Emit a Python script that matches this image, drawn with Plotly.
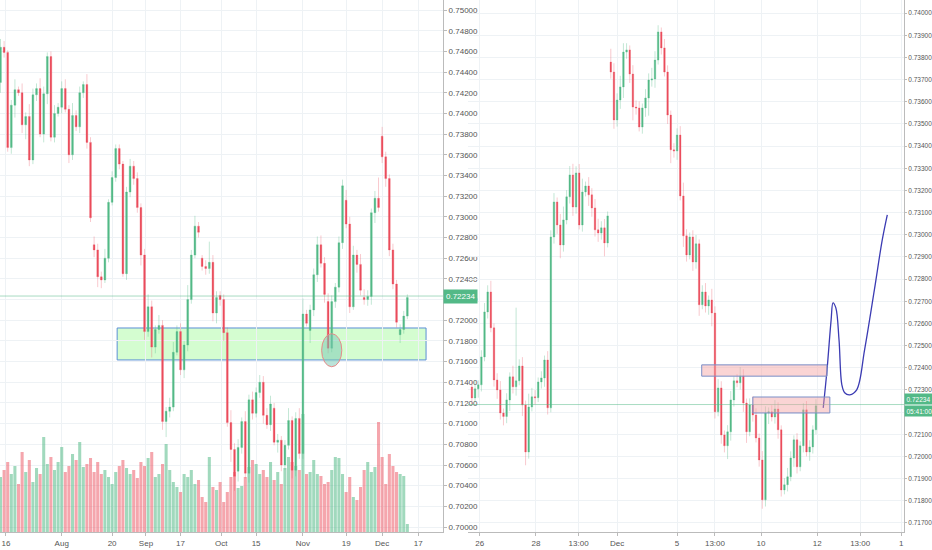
import plotly.graph_objects as go

# ---------- left panel: daily candles ----------
l_open = [0.7430, 0.7464, 0.7459, 0.7367, 0.7408, 0.7423, 0.7420, 0.7389, 0.7397, 0.7355,
          0.7418, 0.7424, 0.7380, 0.7419, 0.7455, 0.7377, 0.7400, 0.7406, 0.7424, 0.7404,
          0.7360, 0.7398, 0.7387, 0.7420, 0.7428, 0.7372, 0.7273, 0.7268, 0.7242, 0.7239,
          0.7260, 0.7314, 0.7338, 0.7366, 0.7351, 0.7245, 0.7324, 0.7349, 0.7337, 0.7309,
          0.7263, 0.7189, 0.7213, 0.7174, 0.7191, 0.7195, 0.7102, 0.7112, 0.7116, 0.7169,
          0.7189, 0.7152, 0.7176, 0.7220, 0.7263, 0.7291, 0.7260, 0.7252, 0.7250, 0.7256,
          0.7207, 0.7224, 0.7220, 0.7188, 0.7101, 0.7075, 0.7054, 0.7077, 0.7102, 0.7052,
          0.7123, 0.7110, 0.7130, 0.7140, 0.7108, 0.7099, 0.7115, 0.7082, 0.7084, 0.7060,
          0.7079, 0.7103, 0.7055, 0.7105, 0.7071, 0.7206, 0.7190, 0.7210, 0.7244, 0.7273,
          0.7255, 0.7218, 0.7173, 0.7218, 0.7232, 0.7275, 0.7316, 0.7293, 0.7213, 0.7263,
          0.7254, 0.7222, 0.7220, 0.7223, 0.7304, 0.7318, 0.7378, 0.7358, 0.7337, 0.7268,
          0.7235, 0.7186, 0.7191, 0.7204]
l_close = [0.7464, 0.7459, 0.7367, 0.7408, 0.7423, 0.7420, 0.7389, 0.7397, 0.7355, 0.7418,
           0.7424, 0.7380, 0.7419, 0.7455, 0.7377, 0.7400, 0.7406, 0.7424, 0.7404, 0.7360,
           0.7398, 0.7387, 0.7420, 0.7428, 0.7372, 0.7299, 0.7268, 0.7242, 0.7239, 0.7260,
           0.7314, 0.7338, 0.7366, 0.7351, 0.7245, 0.7324, 0.7349, 0.7337, 0.7309, 0.7263,
           0.7189, 0.7213, 0.7174, 0.7191, 0.7195, 0.7102, 0.7112, 0.7116, 0.7169, 0.7189,
           0.7152, 0.7176, 0.7220, 0.7263, 0.7291, 0.7285, 0.7252, 0.7250, 0.7256, 0.7207,
           0.7222, 0.7220, 0.7188, 0.7101, 0.7075, 0.7049, 0.7077, 0.7102, 0.7052, 0.7123,
           0.7110, 0.7130, 0.7140, 0.7108, 0.7099, 0.7119, 0.7082, 0.7084, 0.7060, 0.7079,
           0.7103, 0.7055, 0.7105, 0.7071, 0.7206, 0.7197, 0.7210, 0.7244, 0.7273, 0.7255,
           0.7225, 0.7173, 0.7218, 0.7232, 0.7275, 0.7330, 0.7293, 0.7213, 0.7263, 0.7254,
           0.7229, 0.7220, 0.7223, 0.7304, 0.7318, 0.7309, 0.7358, 0.7337, 0.7268, 0.7235,
           0.7198, 0.7191, 0.7204, 0.7222]
# wick lengths in units of 0.0001
l_wick_up = [8, 6, 2, 5, 10, 3, 9, 4, 12, 6,
             5, 10, 7, 4, 5, 8, 4, 7, 9, 4,
             12, 5, 6, 3, 10, 5, 8, 6, 5, 9,
             3, 6, 4, 4, 3, 5, 7, 5, 6, 4,
             6, 12, 6, 4, 10, 5, 4, 9, 10, 6,
             8, 4, 14, 5, 10, 4, 3, 6, 20, 7,
             6, 4, 5, 5, 12, 6, 8, 4, 10, 5,
             8, 5, 7, 6, 7, 8, 5, 6, 4, 5,
             12, 4, 6, 10, 15, 4, 5, 6, 8, 9,
             6, 8, 6, 4, 6, 6, 10, 7, 9, 5,
             10, 8, 6, 4, 7, 20, 9, 5, 4, 6,
             4, 5, 5, 3]
l_wick_dn = [10, 5, 4, 6, 12, 3, 8, 14, 6, 4,
             6, 3, 8, 10, 4, 5, 3, 6, 3, 8,
             5, 4, 6, 5, 6, 4, 7, 10, 8, 3,
             4, 3, 4, 5, 3, 6, 5, 6, 5, 10,
             8, 5, 10, 6, 4, 8, 15, 6, 4, 3,
             5, 8, 6, 4, 3, 5, 4, 6, 5, 8,
             10, 6, 8, 4, 12, 14, 10, 6, 5, 9,
             6, 4, 5, 8, 4, 6, 3, 10, 6, 5,
             4, 8, 6, 5, 5, 3, 12, 6, 7, 4,
             8, 5, 4, 6, 5, 6, 4, 6, 3, 8,
             5, 5, 6, 8, 10, 4, 6, 8, 6, 5,
             5, 8, 4, 3]
l_volume = [55, 62, 70, 58, 66, 48, 80, 60, 72, 50,
            64, 58, 95, 68, 75, 62, 70, 85, 60, 66,
            78, 72, 90, 65, 68, 74, 60, 70, 58, 62,
            55, 48, 60, 66, 72, 64, 58, 62, 54, 70,
            66, 74, 80, 55, 58, 68, 88, 62, 50, 45,
            40, 58, 55, 62, 48, 52, 35, 30, 75, 45,
            42, 50, 30, 40, 55, 60, 44, 46, 55, 65,
            72, 68, 58, 62, 55, 70, 52, 60, 48, 64,
            75, 70, 66, 62, 118, 58, 60, 72, 58, 56,
            48, 50, 62, 75, 74, 58, 40, 55, 35, 32,
            45, 62, 70, 60, 65, 110, 75, 48, 78, 66,
            60, 58, 56, 8]
l_tick_pos = [1.5, 17, 31, 40.4, 50, 61.3, 71, 84, 96, 106, 116]
l_tick_text = ["16", "Aug", "20", "Sep", "17", "Oct", "15", "Nov", "19", "Dec", "17"]

# ---------- right panel: hourly candles ----------
r_first_open = 0.72313
r_gap_open = {44: 0.73779}
r_close = [0.72264, 0.72305, 0.72323, 0.72449, 0.72652, 0.72742, 0.72580, 0.72345, 0.72300, 0.72196,
           0.72180, 0.72255, 0.72359, 0.72314, 0.72341, 0.72408, 0.72232, 0.72020, 0.72223, 0.72269,
           0.72265, 0.72336, 0.72354, 0.72435, 0.72219, 0.72990, 0.73148, 0.73044, 0.72954, 0.73067,
           0.73171, 0.73270, 0.73125, 0.73279, 0.73044, 0.73193, 0.73220, 0.73180, 0.73121, 0.73022,
           0.73008, 0.73031, 0.72963, 0.73085,
           0.73734, 0.73518, 0.73608, 0.73667, 0.73824, 0.73834, 0.73725, 0.73576, 0.73572, 0.73486,
           0.73572, 0.73617, 0.73698, 0.73703, 0.73788, 0.73915, 0.73843, 0.73734, 0.73540, 0.73383,
           0.73378, 0.73450, 0.73175, 0.72995, 0.72909, 0.72990, 0.72877, 0.72959, 0.72684, 0.72742,
           0.72679, 0.72706, 0.72647,
           0.72201, 0.72309, 0.72097, 0.72048, 0.72111, 0.72255, 0.72341, 0.72332, 0.72363, 0.72241,
           0.72111, 0.72232, 0.72187, 0.72083, 0.71984, 0.71804, 0.72196, 0.72201, 0.72178, 0.72214,
           0.72120, 0.71849, 0.71872, 0.71908, 0.71993, 0.72075, 0.71953, 0.72048, 0.72210, 0.72020,
           0.72043, 0.72120, 0.72228]
r_wick_up = [3, 4, 2, 3, 4, 3, 5, 2, 3, 4,
             2, 3, 2, 5, 33, 3, 4, 2, 6, 4,
             3, 2, 3, 2, 4, 3, 4, 2, 5, 6,
             3, 4, 5, 3, 4, 6, 2, 4, 3, 4,
             5, 3, 4, 2, 6, 4, 3, 5, 4, 3,
             2, 4, 3, 3, 2, 4, 3, 5, 4, 3,
             2, 4, 3, 2, 3, 3, 4, 6, 3, 2,
             3, 4, 2, 3, 4, 2, 5, 3, 4, 3,
             2, 3, 4, 2, 3, 4, 3, 2, 3, 4,
             3, 2, 4, 3, 2, 3, 4, 3, 2, 3,
             4, 3, 2, 3, 2, 3, 4, 3, 2, 3]
r_wick_dn = [3, 2, 4, 3, 2, 3, 2, 3, 4, 3,
             4, 3, 5, 3, 4, 2, 5, 6, 3, 2,
             3, 2, 3, 4, 3, 2, 3, 4, 6, 3,
             2, 3, 4, 3, 2, 3, 2, 5, 4, 3,
             4, 3, 6, 2, 3, 4, 3, 4, 5, 3,
             4, 6, 3, 2, 3, 4, 8, 3, 4, 2,
             3, 2, 4, 6, 3, 4, 2, 5, 3, 2,
             4, 3, 5, 2, 3, 4, 6, 3, 2, 4,
             3, 6, 4, 3, 2, 3, 4, 5, 2, 3,
             2, 3, 4, 3, 5, 2, 3, 4, 3, 2,
             3, 2, 4, 3, 2, 3, 2, 4, 3, 2]
r_tick_pos = [2.5, 20.3, 33.8, 46, 65, 77, 91.6, 109.4, 123, 136]
r_tick_text = ["26", "28", "13:00", "Dec", "5", "13:00", "10", "12", "13:00", "1"]

# hand-drawn projection on the right
proj_x = [111.3, 112.5, 113.8, 114.4, 115.3, 116.3, 117.2, 118.1, 119.7, 121.9, 124.4, 127.5, 130, 131.6]
proj_y = [0.72219, 0.72390, 0.72616, 0.72693, 0.72670, 0.72526, 0.72323, 0.72287, 0.72278, 0.72300,
          0.72481, 0.72751, 0.72977, 0.73090]

last_price = 0.72234

GREEN = "#53b987"
RED = "#eb4d5c"

n_l = min(len(l_open), len(l_close), len(l_wick_up), len(l_wick_dn))
l_x = list(range(n_l))
l_high = [max(l_open[i], l_close[i]) + l_wick_up[i] * 0.0001 for i in range(n_l)]
l_low = [min(l_open[i], l_close[i]) - l_wick_dn[i] * 0.0001 for i in range(n_l)]

r_open = [r_first_open] + r_close[:-1]
for k, v in r_gap_open.items():
    r_open[k] = v
n_r = len(r_close)
r_x = list(range(n_r))
r_high = [max(r_open[i], r_close[i]) + r_wick_up[i % len(r_wick_up)] * 0.0001 for i in range(n_r)]
r_low = [min(r_open[i], r_close[i]) - r_wick_dn[i % len(r_wick_dn)] * 0.0001 for i in range(n_r)]

vol_colors = ["rgba(83,185,135,0.55)" if l_close[i] >= l_open[i] else "rgba(235,77,92,0.5)"
              for i in range(len(l_volume))]

fig = go.Figure()
fig.add_trace(go.Bar(x=list(range(len(l_volume))), y=l_volume, marker_color=vol_colors,
                     marker_line_width=0, xaxis="x", yaxis="y3", showlegend=False))
fig.add_trace(go.Candlestick(
    x=l_x, open=l_open[:n_l], high=l_high, low=l_low, close=l_close[:n_l],
    increasing=dict(line=dict(color="rgba(83,185,135,0.35)", width=1), fillcolor=GREEN),
    decreasing=dict(line=dict(color="rgba(235,77,92,0.3)", width=1), fillcolor=RED),
    whiskerwidth=0, xaxis="x", yaxis="y", showlegend=False))
fig.add_trace(go.Candlestick(
    x=r_x, open=r_open, high=r_high, low=r_low, close=r_close,
    increasing=dict(line=dict(color="rgba(83,185,135,0.35)", width=1), fillcolor=GREEN),
    decreasing=dict(line=dict(color="rgba(235,77,92,0.3)", width=1), fillcolor=RED),
    whiskerwidth=0, xaxis="x2", yaxis="y2", showlegend=False))
fig.add_trace(go.Scatter(x=proj_x, y=proj_y, mode="lines", line=dict(color="#3b3bb3", width=1.3, shape="spline"),
                         xaxis="x2", yaxis="y2", showlegend=False, hoverinfo="skip"))

shapes = [
    dict(type="line", xref="x domain", yref="y", x0=0, x1=1, y0=last_price, y1=last_price,
         line=dict(color="rgba(83,185,135,0.5)", width=1)),
    dict(type="line", xref="x2 domain", yref="y2", x0=0, x1=1, y0=last_price, y1=last_price,
         line=dict(color="rgba(83,185,135,0.5)", width=1)),
    dict(type="rect", xref="x", yref="y", x0=32.4, x1=118.2, y0=0.71616, y1=0.71925,
         fillcolor="rgba(160,250,150,0.45)", line=dict(color="#5b8fd6", width=1), layer="below"),
    dict(type="circle", xref="x", yref="y", x0=89.2, x1=94.8, y0=0.7155, y1=0.7187,
         fillcolor="rgba(120,200,180,0.5)", line=dict(color="#e88a8a", width=1)),
    dict(type="rect", xref="x2", yref="y2", x0=72.8, x1=112.5, y0=0.72362, y1=0.72413,
         fillcolor="rgba(245,160,160,0.45)", line=dict(color="#7a8fc8", width=1)),
    dict(type="rect", xref="x2", yref="y2", x0=89, x1=113.4, y0=0.72196, y1=0.72268,
         fillcolor="rgba(245,160,160,0.45)", line=dict(color="#7a8fc8", width=1)),
]

font = dict(family="Liberation Sans", size=8, color="#555")
grid = "#eef2f5"
ax_common = dict(showgrid=True, gridcolor=grid, showline=True, linecolor="#bbb", ticks="outside",
                 tickcolor="#bbb", zeroline=False, automargin=False)

fig.update_layout(
    width=932, height=550, margin=dict(l=0, r=0, t=0, b=18),
    paper_bgcolor="white", plot_bgcolor="white", font=font, shapes=shapes,
    bargap=0.15, hovermode=False,
    xaxis=dict(domain=[0, 0.4753], range=[-0.14, 122.9], rangeslider=dict(visible=False),
               tickvals=l_tick_pos, ticktext=l_tick_text, ticklen=3, **ax_common),
    yaxis=dict(anchor="x", side="right", range=[0.69952, 0.75097], dtick=0.002, tick0=0.70,
               tickformat=".5f", ticklen=3, **ax_common),
    yaxis3=dict(overlaying="y", range=[0, 532], visible=False),
    xaxis2=dict(domain=[0.5021, 0.9700], range=[-1.25, 136.9], rangeslider=dict(visible=False),
                tickvals=r_tick_pos, ticktext=r_tick_text, ticklen=3, **ax_common),
    yaxis2=dict(anchor="x2", side="right", range=[0.71659, 0.74059], dtick=0.001, tick0=0.717,
                tickformat=".5f", tickfont=dict(size=6.5), ticklen=2, **ax_common),
)

fig.add_annotation(xref="paper", yref="y", x=0.4753, y=last_price, xanchor="left", text="0.72234",
                   showarrow=False, bgcolor=GREEN, font=dict(family="Liberation Sans", size=8, color="white"),
                   borderpad=2)
fig.add_annotation(xref="paper", yref="y2", x=0.9700, y=last_price, xanchor="left", yanchor="bottom",
                   text="0.72234", showarrow=False, bgcolor=GREEN,
                   font=dict(family="Liberation Sans", size=6.5, color="white"), borderpad=1.5)
fig.add_annotation(xref="paper", yref="y2", x=0.9700, y=last_price, xanchor="left", yanchor="top",
                   text="05:41:00", showarrow=False, bgcolor=GREEN,
                   font=dict(family="Liberation Sans", size=6.5, color="white"), borderpad=1.5)

fig.write_html("out.html", config={"displayModeBar": False},
               post_script="document.body.style.margin='0';document.body.style.overflow='hidden';"
                           "document.documentElement.style.overflow='hidden';")
